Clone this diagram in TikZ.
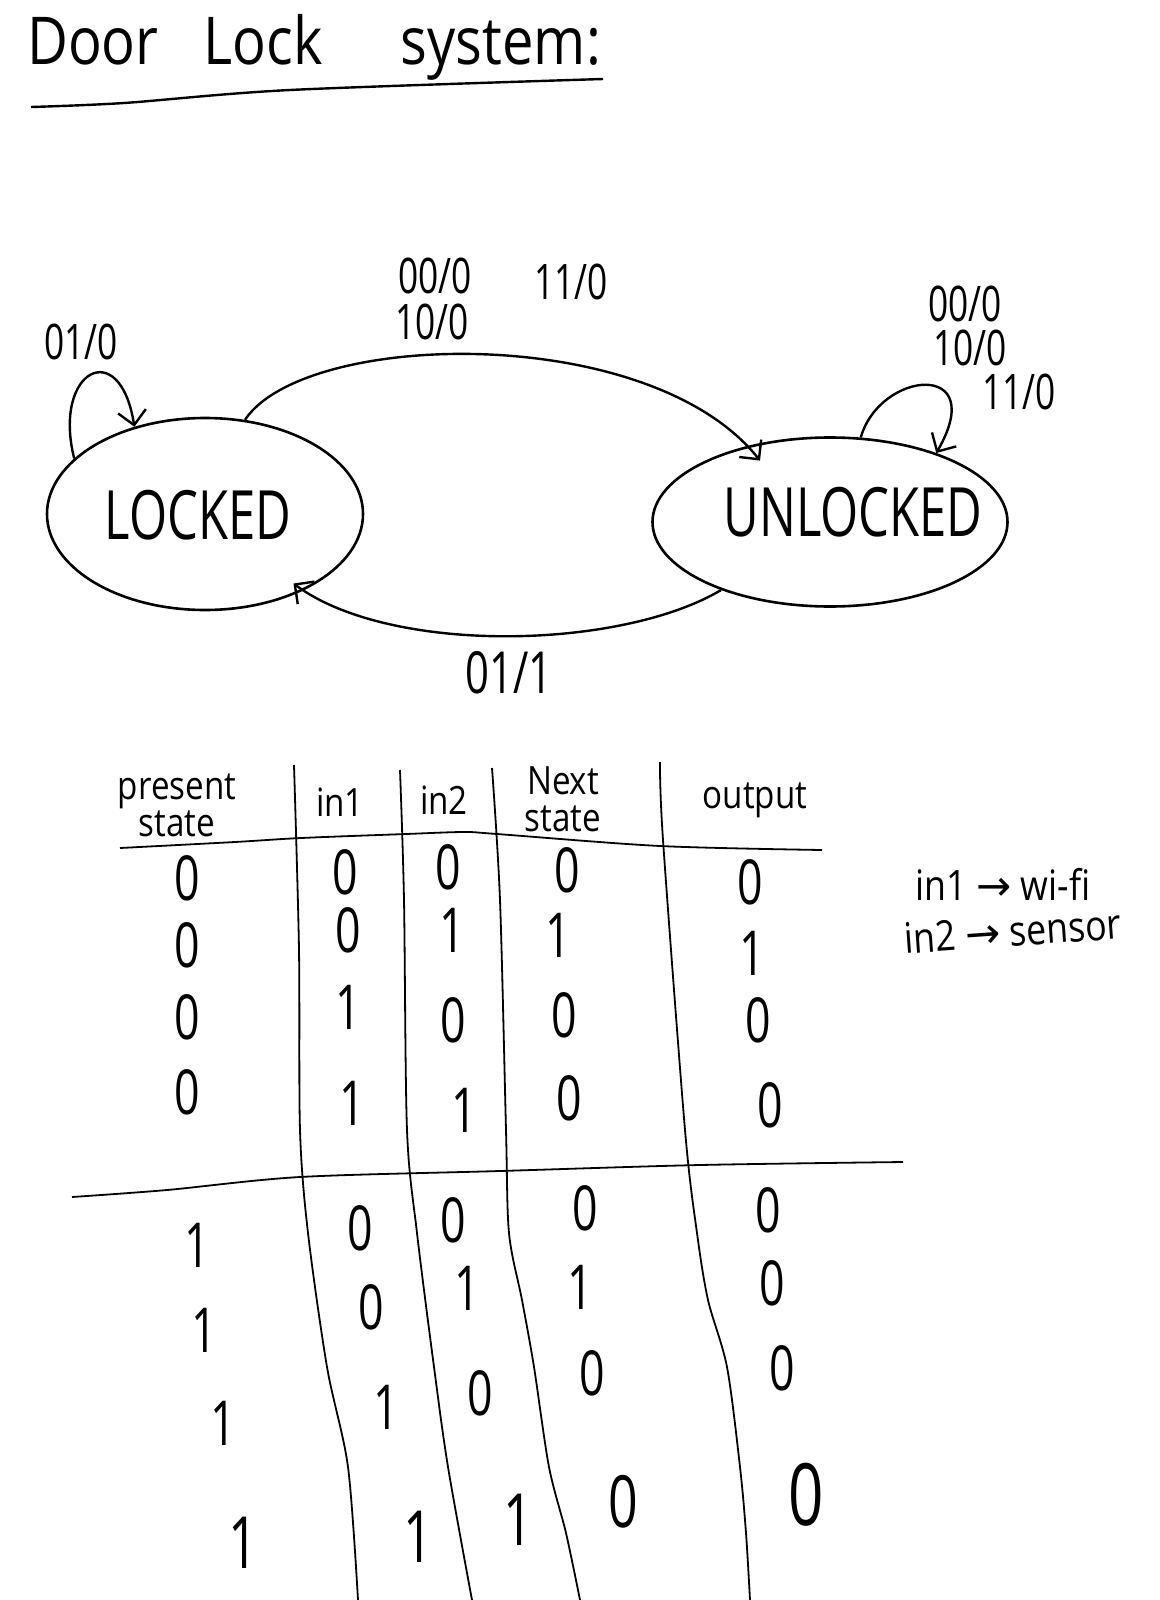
\documentclass[tikz,border=0pt]{standalone}
\usepackage{fontspec}
\usepackage{graphicx}
\usetikzlibrary{shapes.geometric,arrows.meta}
\newfontfamily\hand[FakeStretch=0.72]{Open Sans}
\newfontfamily\handw[FakeStretch=0.85]{Open Sans}
\newfontfamily\symf{DejaVu Sans}
\begin{document}
\begin{tikzpicture}[x=1pt,y=-1pt,
  stateshape/.style={draw, ellipse, line width=2.6pt, inner sep=0pt},
  statetext/.style={font=\hand\fontsize{68}{68}\selectfont, inner sep=0pt},
  lab/.style={font=\hand\fontsize{49}{49}\selectfont, inner sep=0pt},
  biglab/.style={font=\hand\fontsize{58}{58}\selectfont, inner sep=0pt},
  hdr/.style={font=\handw\fontsize{39}{37}\selectfont, inner sep=0pt, align=center},
  num/.style={font=\hand\fontsize{62}{62}\selectfont, inner sep=0pt},
  numb/.style={font=\hand\fontsize{72}{72}\selectfont, inner sep=0pt},
  legend/.style={font=\handw\fontsize{42}{42}\selectfont, inner sep=0pt},
  titletext/.style={font=\handw\fontsize{66}{66}\selectfont, inner sep=0pt},
  arr/.style={line width=2.4pt, -{Straight Barb[length=14pt,width=28pt]}},
  tline/.style={line width=1.8pt},
  uline/.style={line width=2.4pt}
]
\fill[white] (0,0) rectangle (1159,1600);
\useasboundingbox (0,0) rectangle (1159,1600);

% title
\node[titletext, anchor=base west] (title) at (27,65) {Door\hspace{45pt}Lock\hspace{78pt}system:};
\draw[uline] plot[smooth] coordinates {(31,107) (124,103) (290,90) (603,79)};

% states
\node[stateshape, minimum width=316pt, minimum height=192pt] (L) at (205,514) {};
\node[stateshape, minimum width=355pt, minimum height=169pt] (U) at (830,522) {};
\node[statetext] (Lt) at (198,515) {LOCKED};
\node[statetext] (Ut) at (853,512) {UNLOCKED};

% transitions
\draw[arr, shorten >=-19pt] (L.67) .. controls (305,330) and (650,322) .. (U.137);
\draw[arr, shorten >=-12pt] (U.212) .. controls (620,650) and (390,655) .. (L.-38);
\draw[arr] (L.157) .. controls (52,370) and (120,335) .. (L.129);
\draw[arr] (U.70) .. controls (880,370) and (990,360) .. (U.33);

% transition labels
\node[lab] (l1) at (81,342) {01/0};
\node[lab] (t1) at (435,276) {00/0};
\node[lab] (t2) at (432,322) {10/0};
\node[lab] (t3) at (571,282) {11/0};
\node[lab] (r1) at (965,304) {00/0};
\node[lab] (r2) at (970,348) {10/0};
\node[lab] (r3) at (1019,392) {11/0};
\node[biglab] (b1) at (509,673) {01/1};

% table headers
\node[hdr] (hps) at (177,805) {present\\state};
\node[hdr] (hi1) at (340,802) {in1};
\node[hdr] (hi2) at (444,800) {in2};
\node[hdr] (hns) at (563,799) {Next\\state};
\node[hdr] (hout) at (755,800) {output};

% table lines
\draw[tline] plot[smooth] coordinates {(120,848) (235,842) (301,838) (406,834) (464,832) (497,834) (660,846) (822,850)};
\draw[tline] plot[smooth] coordinates {(72,1197) (167,1190) (300,1177) (500,1171) (700,1165) (903,1162)};
\draw[tline] plot[smooth] coordinates {(294,765) (299,950) (300,1130) (308,1233) (327,1367) (348,1467) (358,1600)};
\draw[tline] plot[smooth] coordinates {(400,770) (404,900) (407,1130) (417,1233) (434,1367) (448,1467) (472,1600)};
\draw[tline] plot[smooth] coordinates {(492,768) (500,900) (506,1130) (509,1233) (522,1300) (534,1367) (549,1467) (566,1533) (580,1600)};
\draw[tline] plot[smooth] coordinates {(660,762) (663,840) (685,1130) (697,1233) (708,1300) (727,1367) (740,1467) (746,1533) (750,1600)};

% present state column
\node[num] (p1) at (187,878) {0};
\node[num] (p2) at (187,945) {0};
\node[num] (p3) at (187,1017) {0};
\node[num] (p4) at (187,1092) {0};
\node[num] (p5) at (197,1245) {1};
\node[num] (p6) at (204,1330) {1};
\node[num] (p7) at (223,1423) {1};
\node[numb] (p8) at (243,1543) {1};
% in1 column
\node[num] (a1) at (345,872) {0};
\node[num] (a2) at (348,930) {0};
\node[num] (a3) at (348,1007) {1};
\node[num] (a4) at (352,1103) {1};
\node[num] (a5) at (360,1228) {0};
\node[num] (a6) at (371,1307) {0};
\node[num] (a7) at (386,1407) {1};
\node[numb] (a8) at (418,1537) {1};
% in2 column
\node[num] (c1) at (448,867) {0};
\node[num] (c2) at (452,930) {1};
\node[num] (c3) at (453,1020) {0};
\node[num] (c4) at (464,1110) {1};
\node[num] (c5) at (453,1220) {0};
\node[num] (c6) at (467,1288) {1};
\node[num] (c7) at (480,1393) {0};
\node[numb] (c8) at (518,1520) {1};
% next state column
\node[num] (n1) at (567,870) {0};
\node[num] (n2) at (558,935) {1};
\node[num] (n3) at (564,1015) {0};
\node[num] (n4) at (569,1098) {0};
\node[num] (n5) at (585,1208) {0};
\node[num] (n6) at (580,1287) {1};
\node[num] (n7) at (592,1373) {0};
\node[numb] (n8) at (623,1502) {0};
% output column
\node[num] (o1) at (750,882) {0};
\node[num] (o2) at (752,953) {1};
\node[num] (o3) at (758,1020) {0};
\node[num] (o4) at (770,1105) {0};
\node[num] (o5) at (768,1210) {0};
\node[num] (o6) at (772,1283) {0};
\node[num] (o7) at (782,1368) {0};
\node[font=\hand\fontsize{86}{86}\selectfont, inner sep=0pt] (o8) at (806,1495) {0};

% legend
\node[legend] (lg1) at (1003,884) {in1 {\symf →} wi-fi};
\node[legend, rotate=4] (lg2) at (1013,931) {in2 {\symf →} sensor};
\end{tikzpicture}
\end{document}
